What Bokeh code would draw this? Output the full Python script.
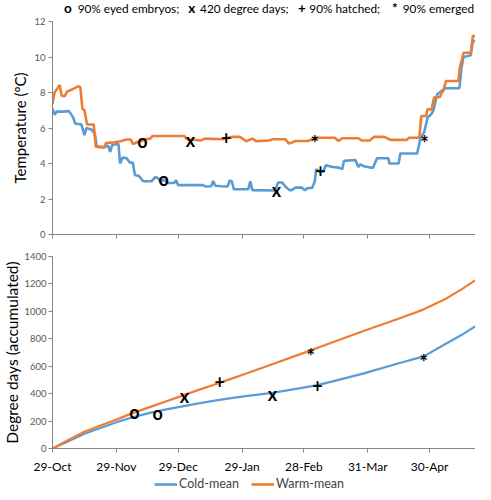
from bokeh.plotting import figure
from bokeh.models import Range1d, FixedTicker, Legend, LegendItem, ColumnDataSource
from bokeh.layouts import column
from bokeh.embed import file_html
from bokeh.resources import INLINE
from bokeh.core.properties import value

FONT = "Lato"
BLUE = "#5B9BD5"
ORANGE = "#ED7D31"
AXIS = "#868686"
W = 475
FRAME_W = 432   # frames of all stacked figures are aligned (left border 43)

# ---- data (x = days since 29-Oct) ----
tick_days = [0, 31, 61, 92, 122, 153, 183]
tick_labels = ["29-Oct", "29-Nov", "29-Dec", "29-Jan", "28-Feb", "31-Mar", "30-Apr"]

cold_days = [0, 1, 2, 5, 8, 10, 11, 14, 15.5, 16.5, 19, 20.5, 21.5, 25, 27, 28, 29, 32, 32.8, 34,
             36, 37.5, 39, 40, 42, 44, 48, 50, 51.5, 52.5, 54, 56, 59, 60, 61, 73, 74.5, 77, 78, 79,
             82, 85, 86, 87, 88, 95, 96, 97, 108, 109.5, 111.5, 113, 115, 116, 118, 121, 122.5, 124, 126, 127.3,
             128, 130, 131.5, 132.6, 136, 139, 140.6, 141.5, 147, 148.5, 149.5, 151, 155.5, 157.5, 163, 163.5, 168, 168.8, 177, 178.5,
             180.5, 182, 184, 185, 186.7, 189, 191, 197.5, 198.5, 199.5, 203, 204, 205.3]
cold_temp = [7.1, 6.75, 6.92, 6.92, 6.95, 6.6, 6.25, 6.2, 5.6, 6.0, 5.9, 5.7, 4.95, 4.92, 5.0, 4.65, 5.05, 5.1, 4.0, 4.33,
             4.3, 4.05, 4.05, 3.35, 3.3, 3.0, 3.0, 3.25, 3.15, 2.95, 3.1, 2.9, 2.9, 3.05, 2.78, 2.78, 2.7, 2.72, 3.02, 2.75,
             2.72, 2.7, 3.05, 3.0, 2.55, 2.55, 3.0, 2.5, 2.48, 2.93, 2.93, 2.7, 2.5, 2.5, 2.64, 2.64, 2.5, 2.62, 2.62, 3.0,
             3.68, 3.5, 3.55, 3.9, 3.8, 3.77, 3.68, 4.15, 4.2, 3.8, 3.95, 3.85, 3.75, 4.3, 4.3, 4.0, 4.0, 4.56, 4.56, 5.4,
             5.8, 6.58, 6.8, 7.05, 7.9, 8.1, 8.24, 8.24, 9.4, 10.0, 10.1, 10.9, 10.9]

warm_days = [0, 1, 3.5, 4.5, 6, 7, 10, 12.5, 13.5, 14.5, 15.5, 16.8, 20, 21, 25, 26, 30, 33, 36, 38,
             39, 41, 43.5, 45, 47.5, 48.5, 64, 65, 72, 74, 83, 84.5, 87.5, 91, 94, 97, 99, 105, 107, 113,
             114.8, 118, 124, 127.3, 129, 137, 138.8, 140.6, 148.5, 150, 154, 156, 161, 164, 172, 173, 178, 179, 181.3, 182,
             184, 185.2, 188, 189, 189.7, 191, 197, 197.7, 199.5, 203, 204, 205.3]
warm_temp = [7.35, 8.0, 8.42, 7.8, 7.8, 8.05, 8.2, 8.35, 8.3, 7.1, 7.0, 6.2, 6.2, 4.95, 4.9, 5.15, 5.2, 5.25, 5.35, 5.35,
             5.1, 5.2, 5.28, 5.37, 5.4, 5.55, 5.55, 5.38, 5.3, 5.4, 5.37, 5.42, 5.5, 5.5, 5.25, 5.4, 5.25, 5.3, 5.37, 5.37,
             5.12, 5.27, 5.27, 5.42, 5.45, 5.45, 5.27, 5.42, 5.42, 5.3, 5.3, 5.5, 5.5, 5.33, 5.33, 5.45, 5.45, 6.68, 6.68, 7.05,
             7.05, 7.71, 7.75, 8.0, 8.1, 8.65, 8.65, 9.4, 10.24, 10.24, 11.18, 11.18]

cold_dd_days = [0, 7.7, 15.5, 23.3, 31, 38.9, 46.8, 54.6, 62.4, 70.2, 78, 85.9, 93.7, 106.7, 120.3, 128.6,
                136, 151.6, 167.2, 180.2, 190.7, 198.5, 205.3]
cold_dd = [0, 52, 107, 150, 192, 228, 258, 283, 305, 327, 347, 366, 382, 405, 440, 462,
           489, 550, 618, 672, 762, 827, 892]
warm_dd_days = [0, 7.7, 15.5, 23.3, 31, 38.9, 46.8, 54.6, 62.4, 70.2, 78, 85.9, 93.7, 104.6, 120.3, 136,
                151.6, 167.2, 179.7, 190.7, 198.5, 205.3]
warm_dd = [0, 62, 122, 168, 212, 258, 300, 341, 382, 424, 463, 504, 545, 604, 688, 775,
           860, 943, 1011, 1090, 1160, 1228]

marker_symbols = ["o", "x", "+", "*"]
warm_top_mark_days = [43.6, 67, 84.3, 127.3]
warm_top_mark_vals = [5.27, 5.35, 5.42, 5.42]
cold_top_mark_days = [54, 108.7, 130, 180.5]
cold_top_mark_vals = [3.1, 2.5, 3.55, 5.45]
warm_dd_mark_days = [39.8, 64, 81.2, 125.3]
warm_dd_mark_vals = [263, 385, 487, 711]
cold_dd_mark_days = [51, 106.7, 128.6, 180.2]
cold_dd_mark_vals = [256, 397, 458, 665]

key_symbols = ["o", "x", "+", "*"]
key_texts = ["90% eyed embryos;", "420 degree days;", "90% hatched;", "90% emerged"]
series_names = ["Cold-mean", "Warm-mean"]

X_END = 205.3


def bare(p):
    p.outline_line_color = None
    p.xgrid.grid_line_color = None
    p.ygrid.grid_line_color = None


def style(p, show_x_labels):
    bare(p)
    for ax in (p.xaxis[0], p.yaxis[0]):
        ax.axis_line_color = AXIS
        ax.major_tick_line_color = AXIS
        ax.minor_tick_line_color = None
        ax.major_tick_in = 0
        ax.major_tick_out = 4
        ax.axis_label_text_font = FONT
        ax.major_label_text_font = FONT
        ax.axis_label_text_font_style = "normal"
    p.xaxis.ticker = FixedTicker(ticks=tick_days)
    p.xaxis.major_label_overrides = {d: l for d, l in zip(tick_days, tick_labels)}
    if show_x_labels:
        p.xaxis.major_label_text_font_size = "12px"
        p.xaxis.major_label_text_color = "#000000"
        p.xaxis.major_label_standoff = 6
    else:
        p.xaxis.major_label_text_font_size = "0px"
        p.xaxis.major_label_text_color = None
        p.xaxis.major_label_standoff = 0
    p.yaxis.major_label_text_font_size = "9.5px"
    p.yaxis.major_label_text_color = "#595959"
    p.yaxis.major_label_standoff = 3
    p.yaxis.axis_label_text_font_size = "15px"
    p.yaxis.axis_label_text_color = "#000000"
    p.yaxis.axis_label_standoff = 2


def add_markers(p, days, vals):
    dy = [5 if s == "*" else 0 for s in marker_symbols]
    fs = ["20px" if s == "*" else "18px" for s in marker_symbols]
    src = ColumnDataSource(dict(x=days, y=vals, t=marker_symbols, dy=dy, fs=fs))
    p.text(x="x", y="y", text="t", source=src, y_offset="dy", text_font=value(FONT),
           text_font_style="bold", text_font_size="fs", text_align="center",
           text_baseline="middle", text_color="black")


# ---- key line above the charts (x in pixels from the plot frame's left edge) ----
pk = figure(width=W, height=16, x_range=Range1d(0, FRAME_W), y_range=Range1d(0, 16),
            x_axis_type=None, y_axis_type=None, output_backend="svg", toolbar_location=None,
            min_border_left=43, min_border_right=0, min_border_top=0, min_border_bottom=0)
bare(pk)
key_sym_x = [15.7, 142.3, 254.7, 349.7]
key_txt_x = [25.7, 150.7, 262.3, 357.7]
pk.text(x=key_sym_x, y=[8.5] * 4, text=key_symbols, text_font=value(FONT), text_font_style="bold",
        text_font_size="13.5px", text_align="center", text_baseline="middle", text_color="black")
pk.text(x=key_txt_x, y=[8.5] * 4, text=key_texts, text_font=value(FONT),
        text_font_size="11.8px", text_align="left", text_baseline="middle", text_color="black")

# ---- top panel: temperature ----
p1 = figure(width=W, height=228, x_range=Range1d(0, X_END), y_range=Range1d(0, 12),
            output_backend="svg", toolbar_location=None,
            min_border_left=43, min_border_right=0, min_border_top=5, min_border_bottom=10)
style(p1, False)
p1.yaxis.ticker = FixedTicker(ticks=[0, 2, 4, 6, 8, 10, 12])
p1.yaxis.axis_label = "Temperature (ºC)"
p1.line(cold_days, cold_temp, line_color=BLUE, line_width=2.6)
p1.line(warm_days, warm_temp, line_color=ORANGE, line_width=2.6)
add_markers(p1, warm_top_mark_days, warm_top_mark_vals)
add_markers(p1, cold_top_mark_days, cold_top_mark_vals)

# ---- bottom panel: degree days ----
p2 = figure(width=W, height=232, x_range=Range1d(0, X_END), y_range=Range1d(0, 1400),
            output_backend="svg", toolbar_location=None,
            min_border_left=43, min_border_right=0, min_border_top=12, min_border_bottom=28)
style(p2, True)
p2.yaxis.ticker = FixedTicker(ticks=[0, 200, 400, 600, 800, 1000, 1200, 1400])
p2.yaxis.axis_label = "Degree days (accumulated)"
p2.yaxis.axis_label_text_font_size = "15.5px"
p2.yaxis.major_label_standoff = 2
p2.yaxis.axis_label_standoff = 0
p2.line(cold_dd_days, cold_dd, line_color=BLUE, line_width=2.2)
p2.line(warm_dd_days, warm_dd, line_color=ORANGE, line_width=2.2)
add_markers(p2, warm_dd_mark_days, warm_dd_mark_vals)
add_markers(p2, cold_dd_mark_days, cold_dd_mark_vals)

# ---- legend strip ----
pl = figure(width=W, height=16, x_range=Range1d(0, X_END), y_range=Range1d(0, 1400),
            x_axis_type=None, y_axis_type=None, output_backend="svg", toolbar_location=None,
            min_border_left=43, min_border_right=0, min_border_top=0, min_border_bottom=0)
bare(pl)
lc = pl.line(cold_dd_days, cold_dd, line_color=BLUE, line_width=2.6, visible=False)
lw = pl.line(warm_dd_days, warm_dd, line_color=ORANGE, line_width=2.6, visible=False)
legend = Legend(items=[LegendItem(label=series_names[0], renderers=[lc]),
                       LegendItem(label=series_names[1], renderers=[lw])],
                orientation="horizontal", location=(102, 1),
                border_line_color=None, background_fill_alpha=0,
                padding=0, margin=0, spacing=12, glyph_width=23, glyph_height=14,
                label_standoff=2, label_text_font=FONT, label_text_font_size="12.5px",
                label_height=14)
pl.add_layout(legend)

layout = column(pk, p1, p2, pl, spacing=0)
open("out.html", "w").write(file_html(layout, INLINE))
